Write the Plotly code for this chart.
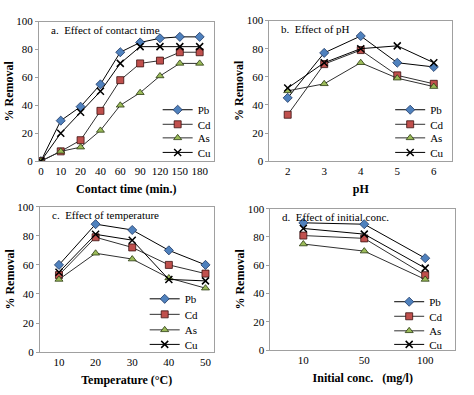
import plotly.graph_objects as go

# ---- data ----
time_cats = ["0", "10", "20", "40", "60", "90", "120", "150", "180"]
time_pb = [0, 29, 39, 55, 78, 85, 88, 89, 89]
time_cd = [0, 7, 15, 36, 58, 70, 72, 78, 78]
time_as = [0, 7, 10, 22, 40, 49, 61, 70, 70]
time_cu = [0, 20, 35, 50, 70, 82, 82, 82, 82]

ph_cats = ["2", "3", "4", "5", "6"]
ph_pb = [45, 77, 89, 70, 67]
ph_cd = [33, 69, 79, 61, 55]
ph_as = [50, 55, 70, 59, 53]
ph_cu = [52, 70, 80, 82, 70]

temp_cats = ["10", "20", "30", "40", "50"]
temp_pb = [60, 88, 84, 70, 60]
temp_cd = [53, 79, 72, 60, 54]
temp_as = [50, 68, 64, 51, 44]
temp_cu = [55, 81, 77, 50, 49]

conc_cats = ["10", "50", "100"]
conc_pb = [90, 89, 65]
conc_cd = [81, 79, 53]
conc_as = [75, 70, 50]
conc_cu = [86, 82, 58]

series_names = ["Pb", "Cd", "As", "Cu"]
y_ticks = [0, 20, 40, 60, 80, 100]

panels = [
    (time_cats, [time_pb, time_cd, time_as, time_cu], "a.  Effect of contact time", "Contact time (min.)"),
    (ph_cats, [ph_pb, ph_cd, ph_as, ph_cu], "b.  Effect of pH", "pH"),
    (temp_cats, [temp_pb, temp_cd, temp_as, temp_cu], "c.  Effect of temperature", "Temperature (°C)"),
    (conc_cats, [conc_pb, conc_cd, conc_as, conc_cu], "d.  Effect of initial conc.", "Initial conc.   (mg/l)"),
]

# ---- styling / layout ----
W, H = 474, 395
FONT = "'Times New Roman', 'Liberation Serif', serif"
styles = [
    dict(symbol="diamond", size=7, color="#4F81BD", line=dict(color="#1F3864", width=0.8)),
    dict(symbol="square", size=7, color="#C0504D", line=dict(color="#3a1010", width=0.8)),
    dict(symbol="triangle-up", size=7, color="#9BBB59", line=dict(color="#2a3a10", width=0.8)),
    dict(symbol="x-thin", size=7, color="black", line=dict(color="black", width=1.5)),
]
line_cols = ["black", "#303030", "#303030", "black"]

# plot areas in pixels: (x0, x1, ytop, ybottom)
boxes = [(38, 213, 16, 160), (269, 452, 15, 160), (39, 213, 207, 357), (270, 455, 209, 355)]
xranges = [[-0.1, 8.7], [-0.5, 4.5], [-0.52, 4.22], [-0.54, 2.49]]
# legend entry placement (pixels): text start x, entry centre y's
legend_text_x = [197, 430, 184, 429]
legend_rows_y = [[107, 122, 136, 151], [107, 122, 136, 151],
                 [302, 318, 334, 349], [305, 320, 335, 349]]

fig = go.Figure()
layout = dict(width=W, height=H, margin=dict(l=0, r=0, t=0, b=0), showlegend=True,
              paper_bgcolor="white", plot_bgcolor="white",
              font=dict(family=FONT, size=11, color="black"), annotations=[])

k = 0
for i, (cats, vals, title, xtitle) in enumerate(panels):
    n = "" if i == 0 else str(i + 1)
    x0, x1, yt, yb = boxes[i]
    for j, name in enumerate(series_names):
        k += 1
        leg = "legend" if k == 1 else "legend" + str(k)
        fig.add_trace(go.Scatter(
            x=cats, y=vals[j], name=name, mode="lines+markers", showlegend=True,
            line=dict(color=line_cols[j], width=1), marker=styles[j],
            xaxis="x" + n, yaxis="y" + n, legend=leg))
        layout[leg] = dict(x=(legend_text_x[i] - 40) / W, y=1 - legend_rows_y[i][j] / H,
                           xanchor="left", yanchor="middle", visible=True,
                           bgcolor="rgba(0,0,0,0)", font=dict(family=FONT, size=11),
                           itemwidth=30)
    layout["xaxis" + n] = dict(
        domain=[x0 / W, x1 / W], anchor="y" + n, type="category", range=xranges[i],
        showline=True, linecolor="#A0A0A0", linewidth=1, mirror=True,
        showgrid=False, zeroline=False, ticks="", tickfont=dict(family=FONT, size=11),
        title=dict(text="<b>" + xtitle + "</b>", font=dict(family=FONT, size=12), standoff=8))
    layout["yaxis" + n] = dict(
        domain=[1 - yb / H, 1 - yt / H], anchor="x" + n, range=[0, 100],
        tickvals=y_ticks, showline=True, linecolor="#A0A0A0", linewidth=1, mirror=True,
        showgrid=False, zeroline=False, ticks="outside", ticklen=3, tickcolor="#A0A0A0",
        tickfont=dict(family=FONT, size=11),
        title=dict(text="<b>% Removal</b>", font=dict(family=FONT, size=12), standoff=0))
    layout["annotations"].append(dict(
        x=(x0 + 10) / W, y=1 - (yt + 9) / H, xref="paper", yref="paper",
        text=title, showarrow=False, xanchor="left", yanchor="middle",
        font=dict(family=FONT, size=11)))

fig.update_layout(**layout)
fig.write_html("out.html", config={"displayModeBar": False},
               post_script="document.body.style.margin='0';document.body.style.padding='0';")
